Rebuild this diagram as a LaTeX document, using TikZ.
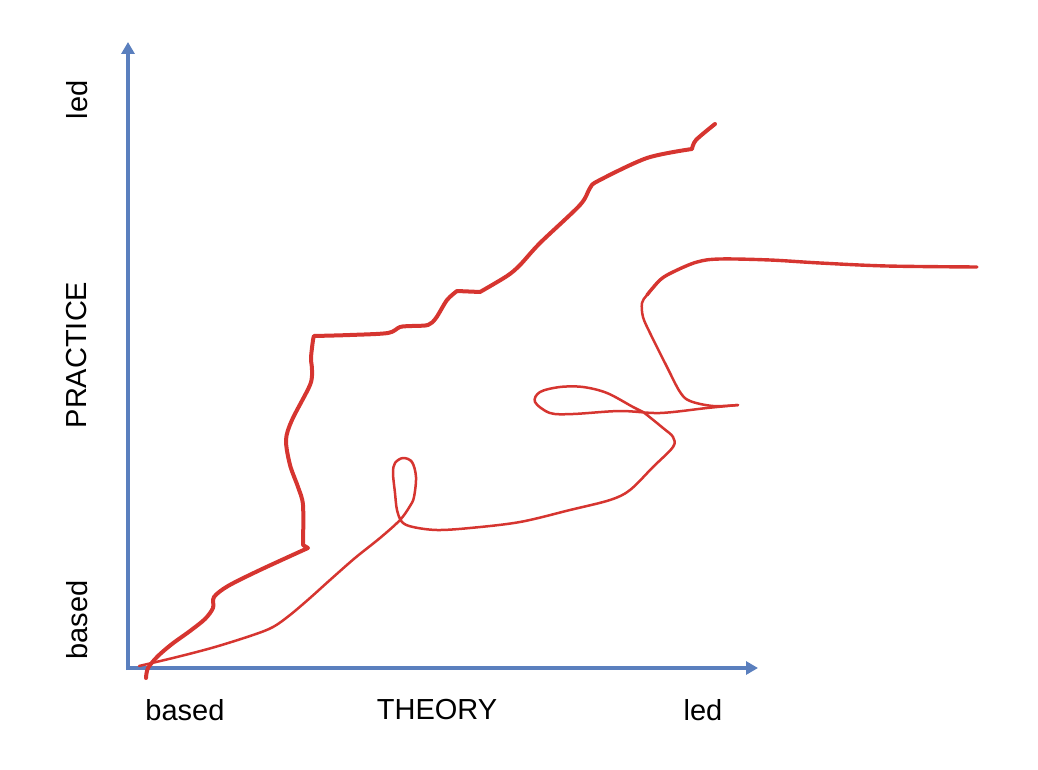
\documentclass[tikz,border=0pt]{standalone}
\usepackage{fontspec}
\setmainfont{Liberation Sans}
\usepackage{xcolor}
\usetikzlibrary{arrows.meta}

\definecolor{axisblue}{HTML}{5A7FBE}
\definecolor{penred}{HTML}{D63530}

\tikzset{
  axis/.style={line width=2pt, axisblue, -{Triangle[length=6pt,width=6.5pt]}},
  penthick/.style={line width=2pt, penred, line cap=round, line join=round},
  penthin/.style={line width=1.25pt, penred, line cap=round, line join=round},
  lab/.style={font=\fontsize{14.5}{17}\selectfont, inner sep=0pt}
}

\begin{document}
\begin{tikzpicture}[x=0.5pt, y=-0.5pt]
  \useasboundingbox (0,0) rectangle (1038,770);

  % axes
  \coordinate (origin) at (128,668);
  \coordinate (ytip) at (128,42);
  \coordinate (xtip) at (758,668);
  \draw[axis] ([yshift=-1pt]origin) -- (ytip);
  \draw[axis] ([xshift=-1pt]origin) -- (xtip);

  % axis labels
  \node[lab, rotate=90] (yled) at (77,100) {led};
  \node[lab, rotate=90] (ytitle) at (77,355) {PRACTICE};
  \node[lab, rotate=90] (ybased) at (77,620) {based};
  \node[lab] (xbased) at (185,710) {based};
  \node[lab] (xtitle) at (437,710) {THEORY};
  \node[lab] (xled) at (703,710) {led};

  % stepped path
  \draw[penthick]
    plot[smooth, tension=0.5] coordinates {(146,678) (148,668) (158,656) (172,644) (190,631) (205,619) (213,608) (214,597) (228,586) (260,570) (308,548)}
    -- plot[smooth, tension=0.5] coordinates {(303,545) (303,505) (298,487) (290,465) (286,440) (292,420) (310,385) (312,370) (311,358) (313,340) (314,336)}
    -- plot[smooth, tension=0.5] coordinates {(314,336) (350,335) (388,333) (400,327) (412,326) (428,325) (436,318) (447,300) (457,291)}
    -- plot[smooth, tension=0.5] coordinates {(457,291) (480,292)}
    -- plot[smooth, tension=0.5] coordinates {(480,292) (507,276) (520,265) (540,243) (580,205) (590,188) (598,181) (647,158) (692,149)}
    -- plot[smooth, tension=0.5] coordinates {(692,149) (696,140) (715,124)};

  % looping path
  \draw[penthin]
    plot[smooth, tension=0.55] coordinates {(139,666) (177,657) (215,647) (253,635) (273,627) (290,615) (310,598) (330,580) (355,558) (380,538) (400,520) (410,506) (414,497) (416,477) (412,462) (403,458) (395,463) (393,473) (395,493) (397,510) (402,522) (413,527) (437,530) (470,528) (520,522) (570,510) (610,500) (630,490) (653,467) (673,447) (673,437) (663,428) (643,412) (633,407) (607,393) (583,387) (560,387) (540,392) (535,402) (550,413) (573,414) (620,411) (660,413) (707,408) (738,405)};
  \draw[penthin]
    plot[smooth, tension=0.55] coordinates {(738,405) (713,406) (690,401) (680,392) (667,367) (650,333) (643,317) (642,303) (647,295) (660,280)};
  \draw[penthick, line width=1.7pt]
    plot[smooth, tension=0.55] coordinates {(647,295) (660,280) (673,272) (697,262) (720,259) (770,260) (820,263) (887,266) (977,267)};
\end{tikzpicture}
\end{document}
